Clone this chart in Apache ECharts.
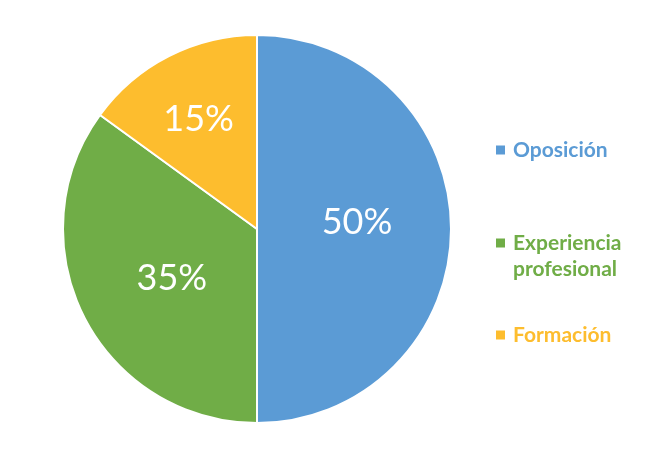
<!DOCTYPE html>
<html><head><meta charset="utf-8">
<script src="https://cdn.jsdelivr.net/npm/echarts@6/dist/echarts.min.js"></script>
<style>html,body{margin:0;padding:0;background:#fff}#c{width:661px;height:450px}</style>
</head><body><div id="c"></div>
<script>
const categories = ['Oposición', 'Experiencia profesional', 'Formación'];
const values = [50, 35, 15];
const colors = ['#5B9BD5', '#70AD47', '#FDBD2E'];

const chart = echarts.init(document.getElementById('c'));
const legendTops = [137, 230, 322];
const legends = categories.map((name, i) => ({
  orient: 'vertical',
  left: 494,
  top: legendTops[i],
  padding: 0,
  data: [name],
  itemWidth: 11,
  itemHeight: i === 1 ? 37 : 11,
  icon: i === 1 ? 'path://M0,0H11V11H0Z M0,37L0.001,37Z' : 'rect',
  itemGap: 8,
  formatter: n => n === 'Experiencia profesional' ? 'Experiencia\nprofesional' : n,
  textStyle: {
    color: colors[i], fontFamily: 'Lato', fontWeight: 'bold', fontSize: 21,
    lineHeight: 26, padding: [0, 0, 0, 2]
  }
}));

const shifts = [{ dx: 0, dy: -7 }, { dx: 4, dy: 4 }, { dx: -13, dy: -21 }];

chart.setOption({
  animation: false,
  color: colors,
  legend: legends,
  series: [{
    type: 'pie',
    center: [257, 229],
    radius: 194,
    startAngle: 90,
    clockwise: true,
    data: categories.map((n, i) => ({ name: n, value: values[i] })),
    itemStyle: { borderColor: '#fff', borderWidth: 2 },
    label: {
      position: 'inside',
      formatter: p => p.value + '%',
      color: '#fff',
      fontFamily: 'Lato',
      fontSize: 36
    },
    labelLayout: p => shifts[p.dataIndex],
    emphasis: { disabled: true }
  }]
});
</script></body></html>
